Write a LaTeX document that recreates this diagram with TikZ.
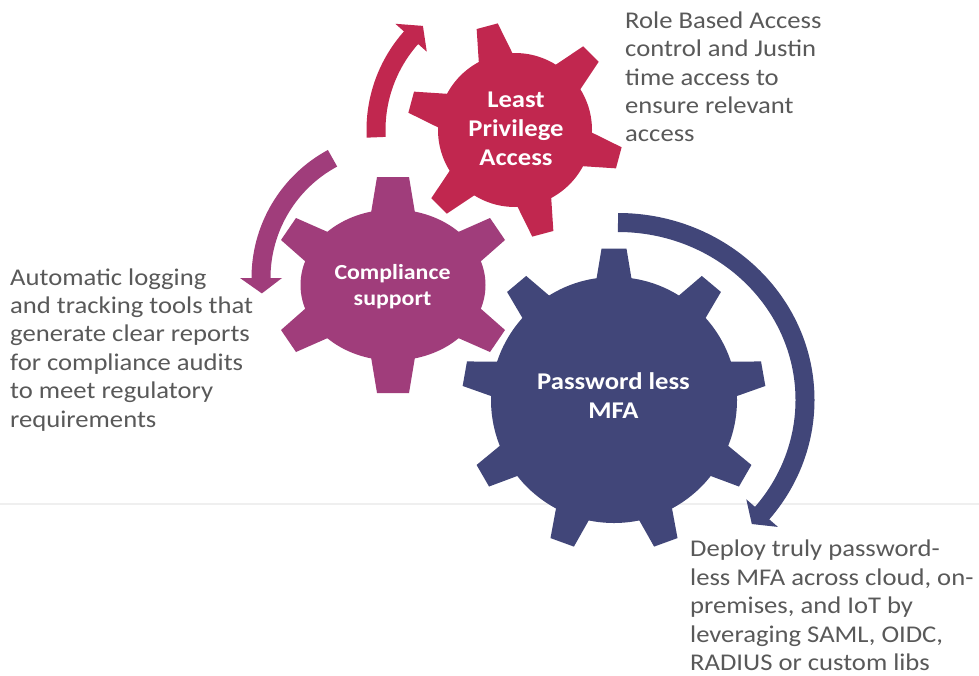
\documentclass[tikz,border=0pt]{standalone}
\usepackage{fontspec}
\setmainfont{Carlito}[FakeStretch=1.11]
\usetikzlibrary{calc}
\definecolor{gblue}{HTML}{414679}
\definecolor{gred}{HTML}{C1274F}
\definecolor{gpurple}{HTML}{A03D7B}
\definecolor{tgray}{HTML}{595959}
\definecolor{lgray}{HTML}{EFEFEF}
\begin{document}
\begin{tikzpicture}[x=1pt,y=-1pt,
  desc/.style={anchor=base west, align=left, inner sep=0pt, text=tgray, font=\fontsize{24}{28.4}\selectfont},
  glabel/.style={anchor=base, align=center, inner sep=0pt, text=white, font=\bfseries\fontsize{24}{29}\selectfont},
  shaft/.style={line width=19pt, line cap=butt}]
\useasboundingbox (0,0) rectangle (979,675);
\fill[white] (0,0) rectangle (979,675);
% light separator line
\coordinate (hl) at (0,504);
\coordinate (hr) at (979,504);
\draw[lgray, line width=2pt] (hl) -- (hr);
% red gear
\begin{scope}[shift={(515,130)}]
  \fill[gred] (0,0) circle (77);
  \foreach \a in {255,315,15,75,135,195}
    \fill[gred] (\a-14.1:74) -- (\a-5.8:108) -- (\a+5.8:108) -- (\a+14.1:74) -- cycle;
  % red arrow
  \draw[gred, shaft] (177:139) arc[start angle=177, end angle=222, radius=139];
  \fill[gred] (221.6:118) -- (228.5:139) -- (221.6:160) -- cycle;
\end{scope}
% purple gear
\begin{scope}[shift={(393,285)}]
  \fill[gpurple] (0,0) ellipse [x radius=92.5, y radius=75.5];
  \foreach \s in {1,-1}
    \fill[gpurple] (-22,\s*-72) -- (-16,\s*-108) -- (16,\s*-108) -- (22,\s*-72) -- cycle;
  \foreach \sx/\sy in {1/1,-1/1,1/-1,-1/-1}
    \fill[gpurple] (\sx*63,\sy*-52) -- (\sx*97,\sy*-67) -- (\sx*112,\sy*-45) -- (\sx*87,\sy*-23) -- cycle;
\end{scope}
% purple arrow
\begin{scope}[shift={(397,278)}]
  \draw[gpurple, shaft] (241.7:136) arc[start angle=241.7, end angle=179.6, radius=136];
  \fill[gpurple] (180:115) -- (173.5:136) -- (180:157) -- cycle;
\end{scope}
% blue gear
\begin{scope}[shift={(614,400)}]
  \fill[gblue] (0,0) circle (123);
  \foreach \a in {270,310,...,590}
    \fill[gblue] (\a-8.6:120) -- (\a-4.7:152) -- (\a+4.7:152) -- (\a+8.6:120) -- cycle;
\end{scope}
% blue arrow
\begin{scope}[shift={(618,400)}]
  \draw[gblue, shaft] (270:187 and 177.5) arc[start angle=270, end angle=400, x radius=187, y radius=177.5];
\end{scope}
\coordinate (bb1) at (746.3,499.3);
\coordinate (bbt) at (751.8,524);
\coordinate (bb2) at (777.9,526.9);
\fill[gblue] (bb1) -- (bbt) -- (bb2) -- cycle;
% gear labels (anchored at the baseline of the last line)
\node[glabel] (g1) at (516,165) {Least\\Privilege\\Access};
\node[glabel, font=\bfseries\fontsize{21.5}{26}\selectfont] (g2) at (392.5,305) {Compliance\\support};
\node[glabel] (g3) at (613.5,418) {Password less\\MFA};
% descriptions (anchored at the baseline of the last line)
\node[desc] (t1) at (625,141.9) {Role Based Access\\control and Justin\\time access to\\ensure relevant\\access};
\node[desc] (t2) at (10,427) {Automatic logging\\and tracking tools that\\generate clear reports\\for compliance audits\\to meet regulatory\\requirements};
\node[desc] (t3) at (690,670.5) {Deploy truly password-\\less MFA across cloud, on-\\premises, and IoT by\\leveraging SAML, OIDC,\\RADIUS or custom libs\vphantom{x}};
\end{tikzpicture}
\end{document}
